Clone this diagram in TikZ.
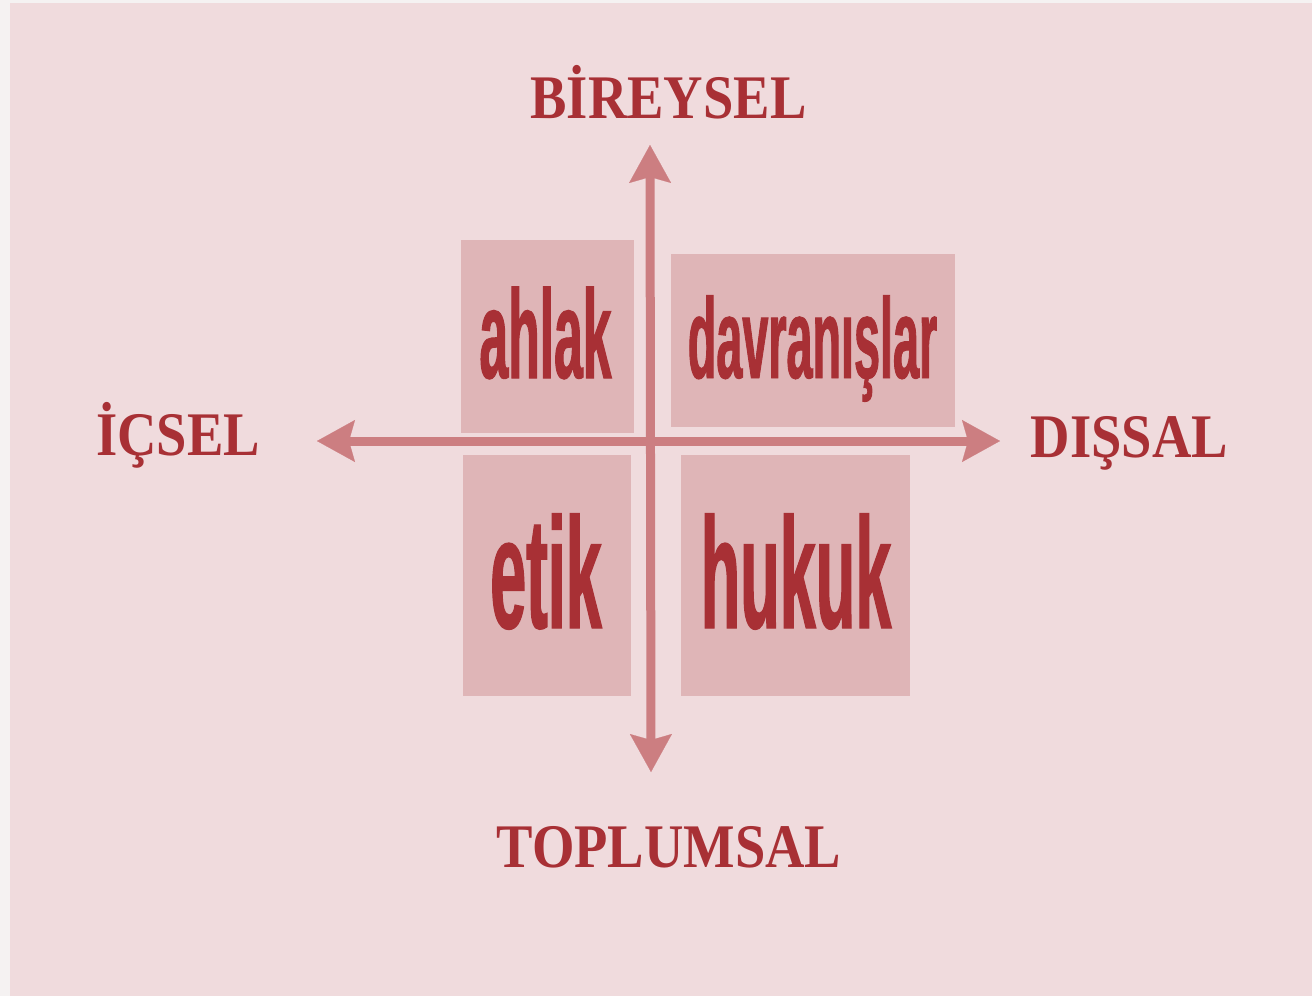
\documentclass[tikz,border=0pt]{standalone}
\usepackage{fontspec}
\usepackage{xcolor}
\usepackage{tikz}
\usetikzlibrary{arrows.meta, positioning}
\setmainfont{Liberation Serif}
\newfontfamily\labelfont[FakeStretch=0.88]{Liberation Serif}
\newfontfamily\wordfont[FakeStretch=0.41,FakeBold=0.8]{Liberation Sans}
\definecolor{pagebg}{HTML}{F0DBDD}
\definecolor{boxfill}{HTML}{DFB5B7}
\definecolor{axisred}{HTML}{CC7E81}
\definecolor{textred}{HTML}{A83035}
\definecolor{edgegray}{HTML}{F5F2F2}
\tikzstyle{quad} = [rectangle, inner sep=0pt, fill=boxfill]
\tikzstyle{word} = [anchor=base, inner sep=0pt, text=textred]
\tikzstyle{pole} = [anchor=base, inner sep=0pt, text=textred, font=\labelfont\bfseries\fontsize{31}{31}\selectfont]
\tikzstyle{axis} = [line width=4.5pt, draw=axisred, {Stealth[length=19pt,width=21pt,inset=3pt,line width=0.1pt]}-{Stealth[length=19pt,width=21pt,inset=3pt,line width=0.1pt]}]

\begin{document}
\begin{tikzpicture}[x=0.5pt, y=-0.5pt]
\useasboundingbox (0,0) rectangle (1312,996);
\fill [edgegray] (0,0) rectangle (1312,996);
\fill [pagebg] (10,3) rectangle (1312,996);
% quadrant boxes
\node (ahlakbox) [quad, minimum width=86.5pt, minimum height=96.5pt] at (547,336.5) {};
\node (davbox) [quad, minimum width=142pt, minimum height=86.5pt] at (813,340.5) {};
\node (etikbox) [quad, minimum width=84pt, minimum height=120.5pt] at (547,575.5) {};
\node (hukukbox) [quad, minimum width=114.5pt, minimum height=120.5pt] at (795.5,575.5) {};
\node (ahlak) [word, font=\wordfont\bfseries\fontsize{63}{63}\selectfont] at (545.5,378) {ahlak};
\node (davranislar) [word, font=\wordfont\bfseries\fontsize{57}{57}\selectfont] at (812.5,378) {davranışlar};
\node (etik) [word, font=\wordfont\bfseries\fontsize{79}{79}\selectfont] at (546,628) {etik};
\node (hukuk) [word, font=\wordfont\bfseries\fontsize{79}{79}\selectfont] at (796,628) {hukuk};
% axes
\coordinate (top) at (650,145);
\coordinate (bottom) at (651,772);
\coordinate (left) at (317,441);
\coordinate (right) at (1000,441);
\draw [axis] (left) -- (right);
\draw [axis] (bottom) -- (top);
% pole labels
\node (bireysel) [pole] at (668.5,118) {BİREYSEL};
\node (icsel) [pole] at (178,455) {İÇSEL};
\node (dissal) [pole] at (1129.5,457) {DIŞSAL};
\node (toplumsal) [pole] at (669,867) {TOPLUMSAL};
\end{tikzpicture}
\end{document}
